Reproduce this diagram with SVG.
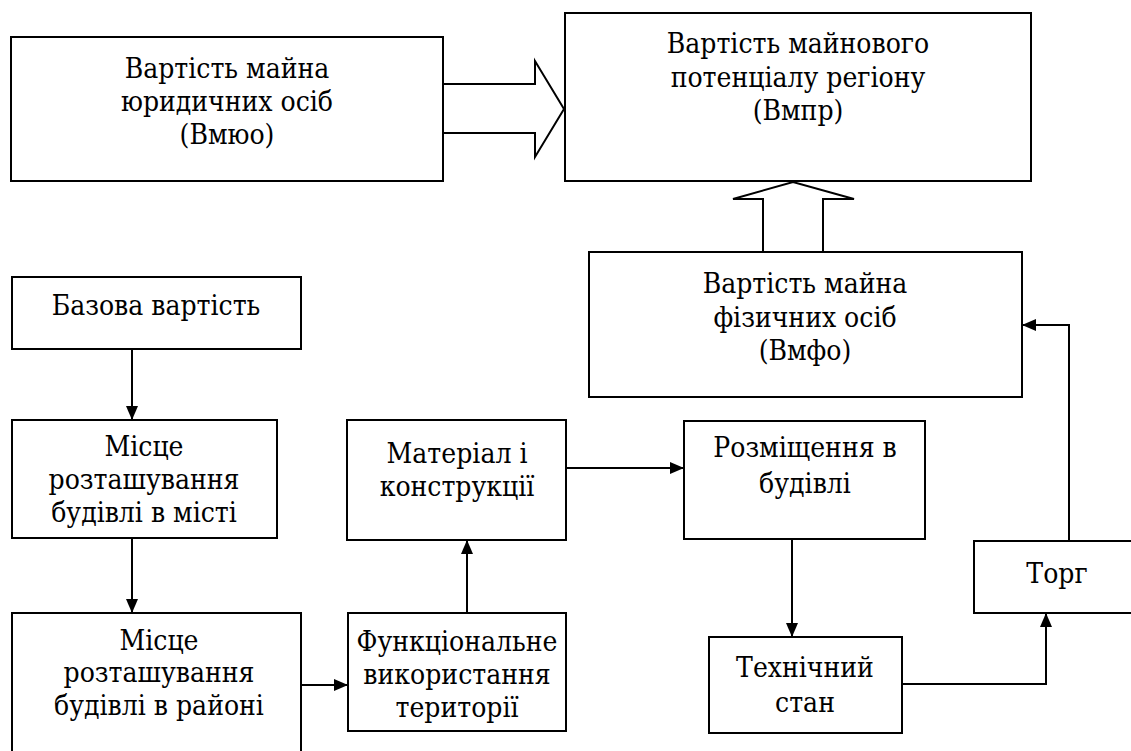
<svg xmlns="http://www.w3.org/2000/svg" width="1131" height="751" viewBox="0 0 1131 751">
<style>
.box{fill:#fff;stroke:#000;stroke-width:2}
text{font-family:'DejaVu Serif Condensed','DejaVu Serif',serif;font-stretch:condensed;font-size:28px;fill:#000;text-anchor:middle}
.c{fill:none;stroke:#000;stroke-width:2}
.big{fill:#fff;stroke:#000;stroke-width:2;stroke-linejoin:miter}
</style>
<defs>
<marker id="ah" viewBox="0 0 14 12" refX="14" refY="6" markerWidth="14" markerHeight="12" markerUnits="userSpaceOnUse" orient="auto">
<path d="M0,0 L14,6 L0,12 Z" fill="#000"/>
</marker>
</defs>
<rect width="1131" height="751" fill="#fff"/>
<g id="connectors">
<path class="big" d="M443,84 H535 V61 L564,109 L535,157 V133 H443"/>
<path class="big" d="M763,252 V199 H733 L793,182 L854,199 H823 V252"/>
<path class="c" d="M132,349 V420" marker-end="url(#ah)"/>
<path class="c" d="M132,538 V613" marker-end="url(#ah)"/>
<path class="c" d="M301,685 H348" marker-end="url(#ah)"/>
<path class="c" d="M467,613 V540" marker-end="url(#ah)"/>
<path class="c" d="M566,468 H684" marker-end="url(#ah)"/>
<path class="c" d="M792,539 V637" marker-end="url(#ah)"/>
<path class="c" d="M902,684 H1046 V613" marker-end="url(#ah)"/>
<path class="c" d="M1069,541 V325 H1022" marker-end="url(#ah)"/>
</g>
<g id="n-vmyuo">
<rect class="box" x="11" y="37" width="432" height="144"/>
<text x="227" y="78">Вартість майна</text>
<text x="227" y="111">юридичних осіб</text>
<text x="227" y="144">(Вмюо)</text>
</g>
<g id="n-vmpr">
<rect class="box" x="565" y="13" width="466" height="168"/>
<text x="798" y="53">Вартість майнового</text>
<text x="798" y="87">потенціалу регіону</text>
<text x="798" y="120">(Вмпр)</text>
</g>
<g id="n-vmfo">
<rect class="box" x="589" y="252" width="433" height="145"/>
<text x="805" y="293">Вартість майна</text>
<text x="805" y="327">фізичних осіб</text>
<text x="805" y="360">(Вмфо)</text>
</g>
<g id="n-base">
<rect class="box" x="12" y="277" width="289" height="72"/>
<text x="156" y="315">Базова вартість</text>
</g>
<g id="n-city">
<rect class="box" x="12" y="420" width="265" height="118"/>
<text x="144" y="456">Місце</text>
<text x="144" y="489">розташування</text>
<text x="144" y="522">будівлі в місті</text>
</g>
<g id="n-district">
<rect class="box" x="12" y="613" width="289" height="140"/>
<text x="159" y="650">Місце</text>
<text x="159" y="682">розташування</text>
<text x="159" y="715">будівлі в районі</text>
</g>
<g id="n-material">
<rect class="box" x="347" y="420" width="219" height="120"/>
<text x="457" y="463">Матеріал і</text>
<text x="457" y="496">конструкції</text>
</g>
<g id="n-func">
<rect class="box" x="348" y="613" width="218" height="118"/>
<text x="457" y="651">Функціональне</text>
<text x="457" y="684">використання</text>
<text x="457" y="717">території</text>
</g>
<g id="n-placement">
<rect class="box" x="684" y="421" width="241" height="118"/>
<text x="805" y="457">Розміщення в</text>
<text x="805" y="493">будівлі</text>
</g>
<g id="n-tech">
<rect class="box" x="709" y="637" width="193" height="96"/>
<text x="805" y="677">Технічний</text>
<text x="805" y="712">стан</text>
</g>
<g id="n-torg">
<rect class="box" x="974" y="541" width="170" height="72"/>
<text x="1057" y="583">Торг</text>
</g>
</svg>
